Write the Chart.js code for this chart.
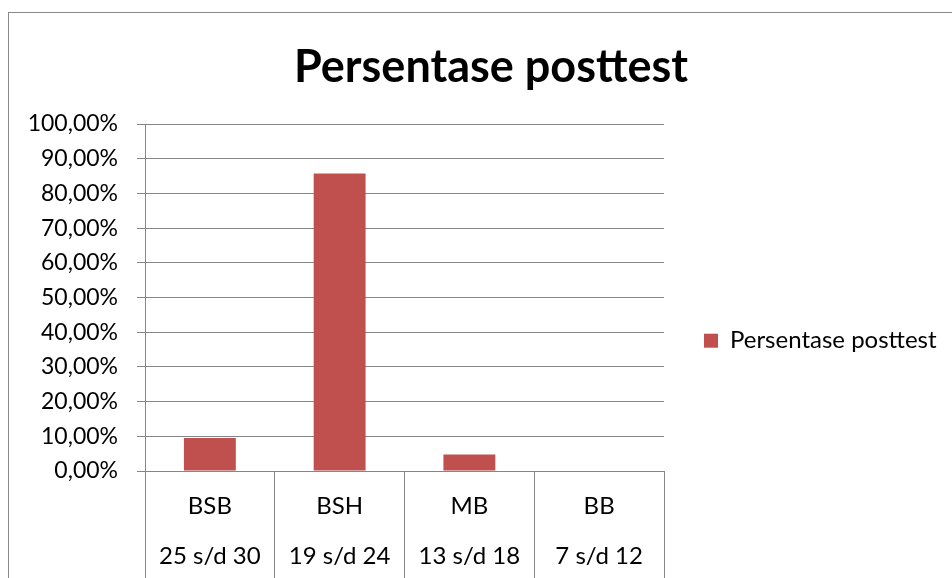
<!DOCTYPE html>
<html>
<head>
<meta charset="utf-8">
<script src="https://cdn.jsdelivr.net/npm/chart.js@4"></script>
<style>
  html, body { margin: 0; padding: 0; background: #fff; overflow: hidden; width: 952px; height: 578px; }
  #frame { position: absolute; left: 8px; top: 12px; width: 1000px; height: 1000px; border: 1px solid #898989; }
  #wrap { position: absolute; left: 24px; top: 13px; width: 934px; height: 567px; }
</style>
</head>
<body>
<div id="frame"></div>
<div id="wrap"><canvas id="chart"></canvas></div>
<script>
// Kategori (dua tingkat) dan nilai persentase
const categories = ['BSB', 'BSH', 'MB', 'BB'];
const scoreRanges = ['25 s/d 30', '19 s/d 24', '13 s/d 18', '7 s/d 12'];
const seriesName = 'Persentase posttest';
const percentValues = [9.52, 85.71, 4.76, 0];
const yTicks = [0, 10, 20, 30, 40, 50, 60, 70, 80, 90, 100];

const FONT = 'Lato, "Open Sans", sans-serif';
const GRID = '#868686';
const LEGEND_WIDTH = 294;

function formatPercent(v) {
    return v.toFixed(2).replace('.', ',') + '%';
}

// legend on the right is capped at a quarter of the width by default, widen it
const wideLegend = {
    id: 'wideLegend',
    beforeLayout(chart) {
        const lg = chart.legend;
        if (lg && !lg._wide) {
            const fit = lg.fit;
            lg.fit = function () {
                fit.call(this);
                this.width = LEGEND_WIDTH;
            };
            lg._wide = true;
        }
    }
};

const ctx = document.getElementById('chart').getContext('2d');
new Chart(ctx, {
    type: 'bar',
    data: {
        labels: categories.map((c, i) => [c, scoreRanges[i]]),
        datasets: [
            {
                label: seriesName,
                data: percentValues,
                backgroundColor: '#C0504D',
                barPercentage: 0.4,
                categoryPercentage: 1.0
            }
        ]
    },
    plugins: [wideLegend],
    options: {
        responsive: true,
        maintainAspectRatio: false,
        animation: false,
        layout: { padding: 0 },
        plugins: {
            tooltip: { enabled: false },
            title: {
                display: true,
                text: seriesName,
                color: '#000',
                font: { family: FONT, size: 45, weight: 'bold', lineHeight: 1.2 },
                padding: { top: 27, bottom: 30 }
            },
            legend: {
                position: 'right',
                align: 'center',
                title: { display: true, text: '', padding: 37, font: { size: 12 } },
                labels: {
                    color: '#000',
                    font: { family: FONT, size: 24 },
                    boxWidth: 14,
                    boxHeight: 14,
                    padding: 40
                }
            }
        },
        scales: {
            x: {
                offset: true,
                afterFit: (scale) => { scale.height = 109; },
                grid: {
                    display: true,
                    drawOnChartArea: false,
                    drawTicks: true,
                    tickLength: 109,
                    color: GRID
                },
                border: { display: true, color: GRID },
                ticks: {
                    color: '#000',
                    padding: -99,
                    font: { family: FONT, size: 24, lineHeight: '50px' },
                    maxRotation: 0,
                    autoSkip: false
                }
            },
            y: {
                min: 0,
                max: 100,
                afterFit: (scale) => { scale.width = 121; },
                afterBuildTicks: (scale) => { scale.ticks = yTicks.map(v => ({ value: v })); },
                grid: { color: GRID, tickLength: 8, drawTicks: true },
                border: { display: true, color: GRID },
                ticks: {
                    color: '#000',
                    padding: 19,
                    font: { family: FONT, size: 23 },
                    callback: (v) => formatPercent(v)
                }
            }
        }
    }
});
</script>
</body>
</html>
